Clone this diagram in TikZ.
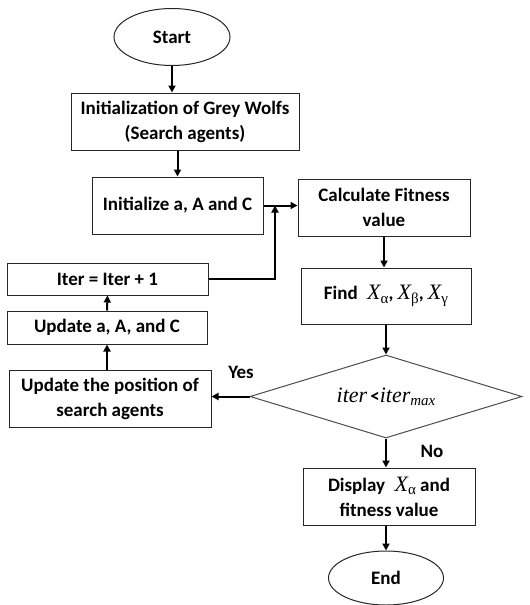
\documentclass[tikz,border=0pt]{standalone}
\usepackage{fontspec}
\setmainfont{Carlito}
\newfontfamily\serifface{Liberation Serif}
\usetikzlibrary{shapes.geometric,arrows.meta}
% italic serif symbol with an upright lowered subscript
\newcommand{\symsub}[2]{{\serifface\mdseries\itshape\fontsize{22}{22}\selectfont #1}\raisebox{-0.35ex}{\serifface\mdseries\upshape\fontsize{15}{15}\selectfont #2}}
\newcommand{\itsub}[2]{{\serifface\mdseries\itshape #1}\raisebox{-0.35ex}{\serifface\mdseries\itshape\fontsize{15}{15}\selectfont #2}}
\begin{document}
\begin{tikzpicture}[x=1pt,y=-1pt,
  every node/.style={font=\bfseries\fontsize{19}{25}\selectfont, align=center, inner sep=0pt},
  procbox/.style={draw=black!85, line width=1pt, fill=white},
  termnode/.style={ellipse, draw=black!85, line width=1pt, fill=white},
  decision/.style={diamond, draw=black!70, line width=1pt, fill=white, shape aspect=3.3},
  arr/.style={line width=2pt, -{Triangle[length=7pt,width=7pt]}},
  lbl/.style={font=\bfseries\fontsize{19}{22}\selectfont}]
\useasboundingbox (0,0) rectangle (530,605);

% left column and main flow
\node[termnode, minimum width=116pt, minimum height=57pt] (start) at (172,37) {Start};
\node[procbox, minimum width=228pt, minimum height=57pt] (init) at (185,121.5)
  {Initialization of Grey Wolfs\\(Search agents)};
\node[procbox, minimum width=171pt, minimum height=57pt] (params) at (177.5,205.5)
  {Initialize a, A and C};
\node[procbox, minimum width=172pt, minimum height=57pt] (fit) at (384,207.5)
  {Calculate Fitness\\value};
\node[procbox, minimum width=201pt, minimum height=32pt] (iter) at (107.5,279)
  {Iter = Iter + 1};
\node[procbox, minimum width=200pt, minimum height=33pt] (upd) at (107,327.5)
  {Update a, A, and C};
\node[procbox, minimum width=170pt, minimum height=56pt] (find) at (386,296)
  {Find\enspace\symsub{X}{α}, \symsub{X}{β}, \symsub{X}{γ}};
\node[decision, minimum width=272pt, minimum height=83pt] (cond) at (386,396.5)
  {{\fontsize{22}{22}\selectfont\serifface\mdseries\itshape iter}\,<\itsub{\fontsize{22}{22}\selectfont iter}{max}};
\node[procbox, minimum width=202pt, minimum height=57pt] (pos) at (110,398.5)
  {Update the position of\\search agents};
\node[procbox, minimum width=172pt, minimum height=57pt] (disp) at (389,496.5)
  {Display\enspace\symsub{X}{α} and\\fitness value};
\node[termnode, minimum width=115pt, minimum height=54pt] (finish) at (386,578) {End};

% connectors
\draw[arr] (start.south) -- (start.south |- init.north);
\draw[arr] (params.north |- init.south) -- (params.north);
\draw[arr] (params.east) -- (fit.west |- params.east);
\coordinate (join) at (275,205.5);
\draw[arr] (iter.east) -| (join);
\draw[arr] (fit.south) -- (fit.south |- find.north);
\draw[arr] (find.south) -- (find.south |- cond.north);
\draw[arr] (cond.west) -- (pos.east |- cond.west);
\draw[arr] (upd.south |- pos.north) -- (upd.south);
\draw[arr] (upd.north) -- (iter.south);
\draw[arr] (cond.south) -- (cond.south |- disp.north);
\draw[arr] (disp.south -| finish.north) -- (finish.north);

% branch labels
\node[lbl] (yes) at (241,372) {Yes};
\node[lbl] (no) at (432,451) {No};
\end{tikzpicture}
\end{document}
